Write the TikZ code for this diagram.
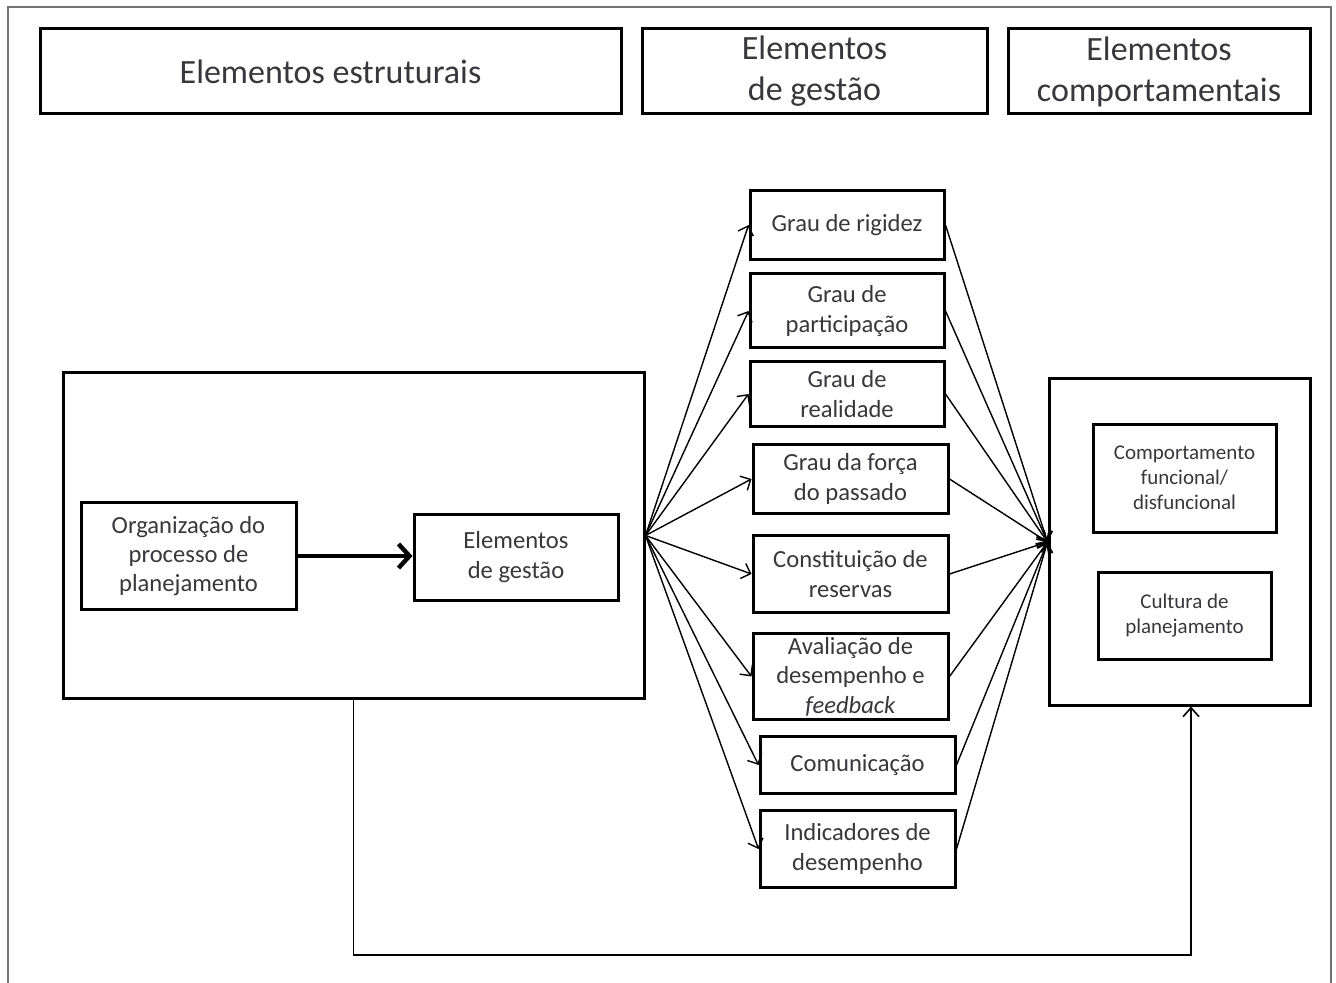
\documentclass[tikz,border=0pt]{standalone}
\usepackage{fontspec}
\setmainfont{Carlito}
\usepackage{tikz}
\usetikzlibrary{calc,arrows,arrows.meta,positioning}
\definecolor{myInk}{RGB}{55,55,60}
\tikzset{
myHead/.style={
	rectangle,draw,line width=1.5pt,
	inner sep=0pt,align=center,text=myInk,
	font=\fontsize{17}{20.5}\selectfont
}
, myGrau/.style={
	rectangle,draw,line width=1.5pt,
	inner sep=0pt,align=center,text=myInk,
	font=\fontsize{12.3}{14.7}\selectfont
}
, myCompo/.style={
	rectangle,draw,line width=1.5pt,
	inner sep=0pt,align=center,text=myInk,
	font=\fontsize{10.5}{12.5}\selectfont
}
, myFrame/.style={draw=black!55,line width=0.9pt}
% links
, myFan/.style={-{Straight Barb[length=4pt,width=8pt]},line width=0.7pt}
, myBold/.style={-{Straight Barb[length=5.5pt,width=12pt]},line width=2.2pt}
, myFb/.style={-{Straight Barb[length=4.5pt,width=8pt]},line width=0.8pt}
}

\begin{document}
\begin{tikzpicture}[x=0.5pt,y=-0.5pt]
	\useasboundingbox (0,0) rectangle (1336,983);
	% frame
	\draw[myFrame] (8,983) -- (8,7) -- (1331,7) -- (1331,983);
	% headers
	\node[myHead,minimum width=290.5pt,minimum height=42.5pt] (HeadEst) at (330.5,71.5) {Elementos estruturais};
	\node[myHead,minimum width=172.5pt,minimum height=42.5pt] (HeadGest) at (814.5,71.5) {Elementos\\de gestão};
	\node[myHead,minimum width=151pt,minimum height=42.5pt] (HeadComp) at (1159,71.5) {Elementos\\comportamentais};
	% structural side
	\node[myGrau,minimum width=290.5pt,minimum height=162.5pt] (Big) at (353.5,535.5) {};
	\node[myGrau,minimum width=107.5pt,minimum height=53.5pt] (Org) at (188.5,556) {Organização do\\processo de\\planejamento};
	\node[myGrau,minimum width=102pt,minimum height=43pt] (ElemG) at (516,557) {Elementos\\de gestão};
	% management elements
	\node[myGrau,minimum width=97pt,minimum height=34.5pt] (Rigidez) at (847,225) {Grau de rigidez};
	\node[myGrau,minimum width=97pt,minimum height=37pt] (Partic) at (847,311) {Grau de\\participação};
	\node[myGrau,minimum width=97pt,minimum height=32.5pt] (Realid) at (847,394) {Grau de\\realidade};
	\node[myGrau,minimum width=97.5pt,minimum height=34.5pt] (Forca) at (850.5,479) {Grau da força\\do passado};
	\node[myGrau,minimum width=97.5pt,minimum height=38.5pt] (Reserv) at (850.5,574) {Constituição de\\reservas};
	\node[myGrau,minimum width=97.5pt,minimum height=43pt] (Aval) at (850.5,676.5) {Avaliação de\\desempenho e\\\textit{feedback}};
	\node[myGrau,minimum width=97.5pt,minimum height=28.5pt] (Comun) at (857.5,765) {Comunicação};
	\node[myGrau,minimum width=97.5pt,minimum height=38.5pt] (Indic) at (857.5,849) {Indicadores de\\desempenho};
	% behavioural side
	\node[myCompo,minimum width=130.5pt,minimum height=163pt] (Right) at (1179.5,542) {};
	\node[myCompo,minimum width=91.5pt,minimum height=54pt] (Funcional) at (1184.5,478) {Comportamento\\funcional/\\disfuncional};
	\node[myCompo,minimum width=86.5pt,minimum height=43.5pt] (Cultura) at (1184.5,615.5) {Cultura de\\planejamento};

	% links
	\draw[myBold] (Org.east) -- (Org.east -| ElemG.west);
	\foreach \g in {Rigidez,Partic,Realid,Forca,Reserv,Aval,Comun,Indic}{
		\draw[myFan] (Big.east) -- (\g.west);
		\draw[myFan] (\g.east) -- (Right.west);
	}
	\coordinate (FbLow) at (1191,955);
	\draw[myFb] (Big.south) |- (FbLow) -- (FbLow |- Right.south);
\end{tikzpicture}
\end{document}
